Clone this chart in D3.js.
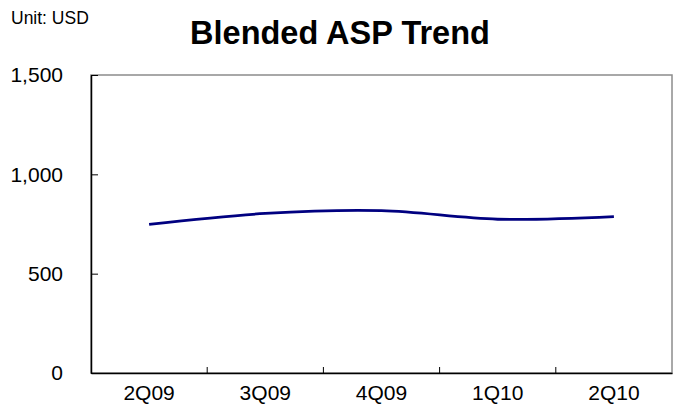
<!DOCTYPE html>
<html>
<head>
<meta charset="utf-8">
<script src="https://cdn.jsdelivr.net/npm/d3@7"></script>
<style>
  body { margin: 0; background: #fff; }
  text { font-family: "Liberation Sans", Arial, sans-serif; }
</style>
</head>
<body>
<div id="chart"></div>
<script>
(function(){
    const quarters = ['2Q09', '3Q09', '4Q09', '1Q10', '2Q10'];
    const asp = [748, 803, 817, 774, 787];
    const yTicks = [0, 500, 1000, 1500];

    const margin = { top: 75, left: 91, bottom: 46, right: 7 };
    const fullWidth = 679;
    const fullHeight = 419;
    const width = fullWidth - margin.left - margin.right;
    const height = fullHeight - margin.top - margin.bottom;

    const root = d3.select('#chart')
        .append('svg')
            .attr('width', fullWidth)
            .attr('height', fullHeight);

    root.append('text')
        .attr('x', 11)
        .attr('y', 24)
        .style('font-size', '17.5px')
        .text('Unit: USD');

    root.append('text')
        .attr('x', 340)
        .attr('y', 44)
        .style('text-anchor', 'middle')
        .style('font-size', '32.5px')
        .style('font-weight', 'bold')
        .text('Blended ASP Trend');

    const svg = root.append('g')
        .attr('transform', `translate(${margin.left}, ${margin.top})`);

    const xScale = d3.scaleBand()
        .domain(quarters)
        .range([0, width]);

    const yScale = d3.scaleLinear()
        .domain([0, 1500])
        .range([height, 0]);

    // plot frame
    svg.append('rect')
        .attr('width', width)
        .attr('height', height)
        .attr('fill', 'none')
        .attr('stroke', '#8c8c8c')
        .attr('stroke-width', 1.5);

    const yAxis = d3.axisLeft(yScale)
        .tickValues(yTicks)
        .tickFormat(d3.format(','))
        .tickSizeInner(-7)
        .tickSizeOuter(0)
        .tickPadding(28);

    const gy = svg.append('g').call(yAxis);

    const xAxis = d3.axisBottom(xScale)
        .tickSize(0);

    const gx = svg.append('g')
        .attr('transform', `translate(0, ${height})`)
        .call(xAxis);

    // category boundaries
    gx.selectAll('.bound')
        .data(quarters.slice(1))
        .enter()
        .append('line')
            .attr('class', 'bound')
            .attr('x1', d => xScale(d))
            .attr('x2', d => xScale(d))
            .attr('y1', 0)
            .attr('y2', -6)
            .attr('stroke', '#000');

    [gx, gy].forEach(g => {
        g.select('.domain').attr('stroke', '#000').attr('stroke-width', 1.5);
        g.selectAll('.tick line').attr('stroke', '#000');
        g.selectAll('text')
            .style('font-size', '21px')
            .style('fill', '#000')
            .style('font-family', '"Liberation Sans", Arial, sans-serif');
    });
    gx.selectAll('.tick text').attr('y', 27).attr('dy', 0);

    const line = d3.line()
        .x((d, i) => xScale(quarters[i]) + xScale.bandwidth() / 2)
        .y(d => yScale(d))
        .curve(d3.curveCardinal.tension(0));

    svg.append('path')
        .datum(asp)
        .attr('d', line)
        .attr('fill', 'none')
        .attr('stroke', '#000080')
        .attr('stroke-width', 2.8);
}());
</script>
</body>
</html>
